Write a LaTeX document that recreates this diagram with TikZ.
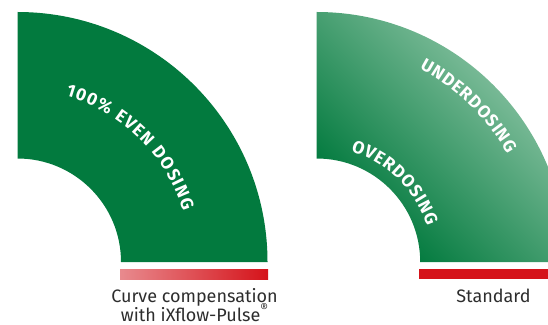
\documentclass[tikz,border=0pt]{standalone}
\usepackage{fontspec}
\setmainfont{Fira Sans}
\usetikzlibrary{calc}
\definecolor{dgreen}{RGB}{2,122,62}
\definecolor{lgreen}{RGB}{142,197,166}
\definecolor{pinkred}{RGB}{232,138,142}
\definecolor{bred}{RGB}{213,19,26}
\definecolor{captext}{RGB}{45,45,45}
\newlength\ctw \newlength\ctpos
\newsavebox\ctbox
\newcommand\ctfont{\fontsize{17.5}{17.5}\selectfont\bfseries}
\newcommand\measurechars[3]{%
  \global\ctw=0pt
  \foreach \ch [count=\k] in {#3}{%
    \sbox\ctbox{\ctfont\ch}%
    \expandafter\xdef\csname cw#1\k\endcsname{\the\wd\ctbox}%
    \global\advance\ctw by \wd\ctbox
    \global\advance\ctw by #2\relax
  }%
  \global\advance\ctw by -#2\relax
  \expandafter\xdef\csname tw#1\endcsname{\the\ctw}%
}
\newcommand\curvetext[6]{%
  \global\ctpos=0pt
  \foreach \ch [count=\k] in {#6}{%
    \edef\tw{\csname tw#5\endcsname}\edef\cw{\csname cw#5\k\endcsname}\edef\tp{\the\ctpos}%
    \pgfmathsetmacro\ang{#3 + (0.5*\tw - \tp - 0.5*\cw)/#2*180/pi}%
    \node[chr, rotate=\ang-90] (#5\k) at ($(#1)+(\ang:#2)$) {\ch};
    \global\advance\ctpos by \cw
    \global\advance\ctpos by #4\relax
  }%
}
\begin{document}%
\measurechars{a}{1.2pt}{1,0,0,\%,\ ,E,V,E,N,\ ,D,O,S,I,N,G}%
\measurechars{b}{0.8pt}{O,V,E,R,D,O,S,I,N,G}%
\measurechars{c}{0.8pt}{U,N,D,E,R,D,O,S,I,N,G}%
\begin{tikzpicture}[x=1pt, y=1pt,
  chr/.style={text=white, font=\ctfont, inner sep=0pt, anchor=base},
  captxt/.style={text=captext, font=\fontsize{18}{20}\selectfont, inner sep=0pt, anchor=base}]
\clip (0,0) rectangle (548,324);
\coordinate (CL) at (17.5,62);
\coordinate (CR) at (316.7,62);
% left shape
\fill[dgreen] (17.5,312) arc[start angle=90, end angle=0, radius=250]
  -- (121,62) arc[start angle=0, end angle=90, radius=103.5] -- cycle;
% right shape with gradient
\begin{scope}
  \clip (316.7,312) arc[start angle=90, end angle=0, radius=250]
  -- (420.2,62) arc[start angle=0, end angle=90, radius=103.5] -- cycle;
  \begin{scope}[transform canvas={shift={(316.7,62)}, rotate=45}]
    \fill[dgreen] (-400,-400) rectangle (70.5,400);
    \shade[left color=dgreen, right color=lgreen] (70,-400) rectangle (285,400);
    \fill[lgreen] (284.5,-400) rectangle (420,400);
  \end{scope}
\end{scope}
% bars
\shade[left color=pinkred, right color=bred] (120,45) rectangle (268,55);
\fill[bred] (419,45) rectangle (560,55);
% curved labels
\curvetext{CL}{173}{45.5}{1.2pt}{a}{1,0,0,\%,\ ,E,V,E,N,\ ,D,O,S,I,N,G}
\curvetext{CR}{116}{45.5}{0.8pt}{b}{O,V,E,R,D,O,S,I,N,G}
\curvetext{CR}{219}{45.8}{0.8pt}{c}{U,N,D,E,R,D,O,S,I,N,G}
% captions
\node[captxt] (capL1) at (194.5,22) {Curve compensation};
\node[captxt] (capL2) at (194.5,2.5) {with iXflow-Pulse\raisebox{0.5em}{\fontsize{12}{12}\selectfont ®}};
\node[captxt] (capR) at (493.5,22) {Standard};
\end{tikzpicture}
\end{document}
